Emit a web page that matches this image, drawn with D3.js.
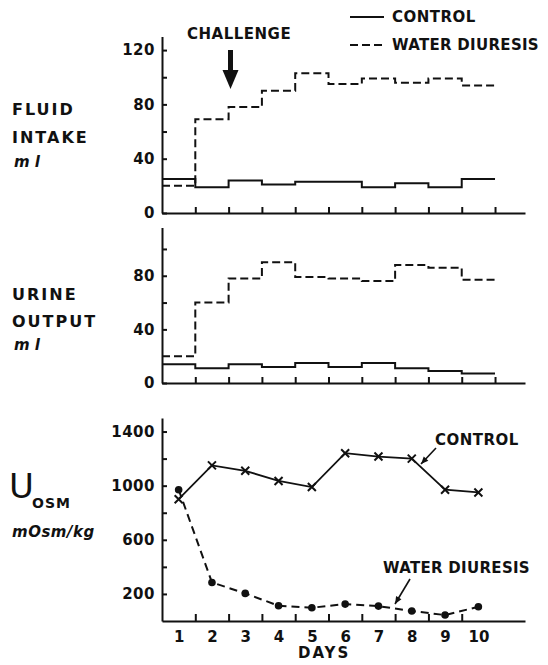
<!DOCTYPE html>
<html lang="en">
<head>
<meta charset="UTF-8">
<title>Fluid intake, urine output and Uosm</title>
<style>
  body { margin: 0; background: #fff; }
  svg text { font-family: "DejaVu Sans", sans-serif; font-weight: bold; fill: #111; }
  .axis path, .axis line { stroke: #111; stroke-width: 2; }
  .axis text { font-size: 15px; fill: #111; }
</style>
</head>
<body>
<div id="graph"></div>
<script src="https://d3js.org/d3.v7.min.js"></script>
<script>
// data, one value per day (1..10)
var days = [1, 2, 3, 4, 5, 6, 7, 8, 9, 10];
var intakeControl = [25, 19, 24, 21, 23, 23, 19, 22, 19, 25];
var intakeWater   = [20, 69, 78, 90, 103, 95, 99, 96, 99, 94];
var urineControl  = [14, 11, 14, 12, 15, 12, 15, 11, 9, 7];
var urineWater    = [20, 60, 78, 90, 79, 78, 76, 88, 86, 77];
var uosmControl   = [900, 1150, 1110, 1035, 990, 1240, 1215, 1200, 970, 950];
var uosmWater     = [970, 285, 204, 113, 98, 125, 110, 74, 44, 105];

var intakeTicks = [0, 40, 60, 80, 100, 120];
var intakeLabels = [0, 40, 80, 120];
var urineTicks = [0, 40, 60, 80, 100];
var urineLabels = [0, 40, 80];
var uosmTicks = [200, 400, 600, 800, 1000, 1200, 1400];
var uosmLabels = [200, 600, 1000, 1400];

var width = 548, height = 665;

var svg = d3.select("#graph").append("svg")
    .attr("width", width)
    .attr("height", height);

// shared x scale (days)
var x = d3.scaleLinear().domain([0, 10.9]).range([162, 525]);

// y scales for each panel
var yIntake = d3.scaleLinear().domain([0, 130]).range([213, 36.5]);
var yUrine = d3.scaleLinear().domain([0, 116]).range([383, 227.5]);
var yUosm = d3.scaleLinear().domain([0, 1500]).range([621, 418]);

function yAxis(scale, ticks, labels) {
    var g = svg.append("g")
        .attr("class", "axis")
        .attr("transform", "translate(" + x(0) + ",0)")
        .call(d3.axisLeft(scale)
            .tickValues(ticks)
            .tickSizeInner(-5)
            .tickSizeOuter(0)
            .tickPadding(7)
            .tickFormat(function(d) { return labels.indexOf(d) >= 0 ? d : ""; }));
    g.selectAll(".tick text").attr("letter-spacing", 0.5);
    return g;
}

function xAxis(scale, ticks, tickLen) {
    svg.append("g")
        .attr("class", "axis")
        .attr("transform", "translate(0," + scale(0) + ")")
        .call(d3.axisBottom(x)
            .tickValues(ticks)
            .tickSizeInner(-tickLen)
            .tickSizeOuter(0)
            .tickFormat(""));
}

// step line for daily values
function steps(values) {
    var pts = values.map(function(v, i) { return [i, v]; });
    pts.push([values.length, values[values.length - 1]]);
    return pts;
}

function stepLine(scale, values, dashed) {
    var line = d3.line()
        .x(function(d) { return x(d[0]); })
        .y(function(d) { return scale(d[1]); })
        .curve(d3.curveStepAfter);
    svg.append("path")
        .datum(steps(values))
        .attr("d", line)
        .attr("fill", "none")
        .attr("stroke", "#111")
        .attr("stroke-width", 2)
        .attr("stroke-dasharray", dashed ? "8,4" : null);
}

// panel 1: fluid intake
xAxis(yIntake, days, 6);
yAxis(yIntake, intakeTicks, intakeLabels);
stepLine(yIntake, intakeControl, false);
stepLine(yIntake, intakeWater, true);

// panel 2: urine output
xAxis(yUrine, days, 6);
yAxis(yUrine, urineTicks, urineLabels);
stepLine(yUrine, urineControl, false);
stepLine(yUrine, urineWater, true);

// panel 3: Uosm
xAxis(yUosm, days.slice(0, 9), 7);
yAxis(yUosm, uosmTicks, uosmLabels);

var dayLabels = svg.append("g")
    .attr("class", "axis")
    .attr("transform", "translate(0," + yUosm(0) + ")")
    .call(d3.axisBottom(x)
        .tickValues(days.map(function(d) { return d - 0.5; }))
        .tickSize(0)
        .tickPadding(10)
        .tickFormat(function(d) { return d + 0.5; }));
dayLabels.select(".domain").remove();

var pointLine = d3.line()
    .x(function(d, i) { return x(days[i] - 0.5); })
    .y(function(d) { return yUosm(d); });

svg.append("path")
    .datum(uosmControl)
    .attr("d", pointLine)
    .attr("fill", "none")
    .attr("stroke", "#111")
    .attr("stroke-width", 1.8);

svg.append("path")
    .datum(uosmWater)
    .attr("d", pointLine)
    .attr("fill", "none")
    .attr("stroke", "#111")
    .attr("stroke-width", 2)
    .attr("stroke-dasharray", "8,5");

// x markers
svg.selectAll(".xmark")
    .data(uosmControl)
    .enter().append("path")
    .attr("class", "xmark")
    .attr("transform", function(d, i) {
        return "translate(" + x(days[i] - 0.5) + "," + yUosm(d) + ")";
    })
    .attr("d", "M-4,-4L4,4M-4,4L4,-4")
    .attr("stroke", "#111")
    .attr("stroke-width", 2);

// dot markers
svg.selectAll(".dot")
    .data(uosmWater)
    .enter().append("circle")
    .attr("class", "dot")
    .attr("cx", function(d, i) { return x(days[i] - 0.5); })
    .attr("cy", function(d) { return yUosm(d); })
    .attr("r", 3.8)
    .attr("fill", "#111");

// x title
svg.append("text")
    .attr("x", 298).attr("y", 658)
    .attr("font-size", 15)
    .attr("letter-spacing", 2)
    .text("DAYS");

// legend
svg.append("line")
    .attr("x1", 350).attr("x2", 384).attr("y1", 17).attr("y2", 17)
    .attr("stroke", "#111").attr("stroke-width", 2);
svg.append("line")
    .attr("x1", 350).attr("x2", 386).attr("y1", 45).attr("y2", 45)
    .attr("stroke", "#111").attr("stroke-width", 2)
    .attr("stroke-dasharray", "8,4");
svg.append("text").attr("x", 392).attr("y", 22)
    .attr("font-size", 15).attr("letter-spacing", 0.5).text("CONTROL");
svg.append("text").attr("x", 392).attr("y", 50)
    .attr("font-size", 15).attr("letter-spacing", 0.3).text("WATER DIURESIS");

// challenge arrow
svg.append("text").attr("x", 187).attr("y", 39)
    .attr("font-size", 15).attr("letter-spacing", 0.5).text("CHALLENGE");
svg.append("rect").attr("x", 228).attr("y", 50).attr("width", 5).attr("height", 22).attr("fill", "#111");
svg.append("path").attr("d", "M222.5,70L238.5,70L230.5,89Z").attr("fill", "#111");

// panel annotations
svg.append("text").attr("x", 435).attr("y", 445)
    .attr("font-size", 15).attr("letter-spacing", 0.5).text("CONTROL");
svg.append("text").attr("x", 383).attr("y", 573)
    .attr("font-size", 15).attr("letter-spacing", 0.3).text("WATER DIURESIS");

var arrow = function(x1, y1, x2, y2) {
    svg.append("line")
        .attr("x1", x1).attr("y1", y1).attr("x2", x2).attr("y2", y2)
        .attr("stroke", "#111").attr("stroke-width", 1.6);
    var a = Math.atan2(y2 - y1, x2 - x1), L = 8, w = 0.4;
    svg.append("path")
        .attr("d", "M" + x2 + "," + y2 +
            "L" + (x2 - L * Math.cos(a - w)) + "," + (y2 - L * Math.sin(a - w)) +
            "L" + (x2 - L * Math.cos(a + w)) + "," + (y2 - L * Math.sin(a + w)) + "Z")
        .attr("fill", "#111");
};
arrow(436, 448, 421, 464);
arrow(410, 579, 395, 604);

// left titles
function label(txt, lx, ly, size, italic, spacing, weight) {
    svg.append("text")
        .attr("x", lx).attr("y", ly)
        .attr("font-size", size)
        .style("font-style", italic ? "italic" : null)
        .style("font-weight", weight || null)
        .attr("letter-spacing", spacing)
        .text(txt);
}
label("FLUID", 12, 115, 16, false, 2);
label("INTAKE", 12, 143, 16, false, 2);
label("m l", 14, 167, 15, true, 0);
label("URINE", 12, 300, 16, false, 2);
label("OUTPUT", 12, 327, 16, false, 2);
label("m l", 14, 350, 15, true, 0);
label("U", 9, 498, 34, false, 0, "normal");
label("OSM", 32, 508, 14, false, 1);
label("mOsm/kg", 12, 537, 15, true, 0.5);
</script>
</body>
</html>
